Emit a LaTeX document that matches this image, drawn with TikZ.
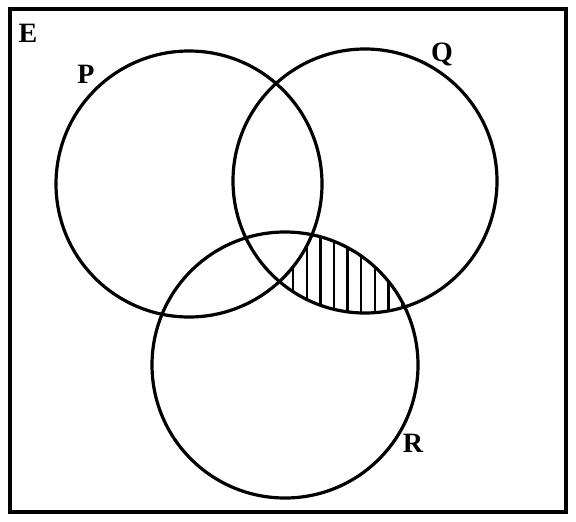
\documentclass[tikz,border=0pt]{standalone}
\usepackage{fontspec}
\setmainfont{Liberation Serif}
\begin{document}
\begin{tikzpicture}[x=1pt,y=-1pt,
  setline/.style={line width=3.2pt},
  hatchline/.style={line width=2.4pt},
  lbl/.style={font=\bfseries\fontsize{28}{28}\selectfont, inner sep=0pt}]
\useasboundingbox (0,0) rectangle (576,522);
\coordinate (cP) at (189,184);
\coordinate (cQ) at (365,181);
\coordinate (cR) at (285,365);
% hatching: in Q and R, not in P
\begin{scope}
  \clip (cQ) circle (132);
  \clip (cR) circle (133);
  \begin{scope}[even odd rule]
    \clip (cP) circle (133) (0,0) rectangle (576,522);
    \foreach \x in {0,...,12} {
      \draw[hatchline] (279.5+13.6*\x,200) -- (279.5+13.6*\x,340);
    }
  \end{scope}
\end{scope}
\draw[setline] (10,9) rectangle (566,512);
\draw[setline] (cP) circle (133);
\draw[setline] (cQ) circle (132);
\draw[setline] (cR) circle (133);
\node[lbl] (E) at (28,33) {E};
\node[lbl] (P) at (86,74) {P};
\node[lbl] (Q) at (442,54) {Q};
\node[lbl] (R) at (413,443) {R};
\end{tikzpicture}
\end{document}
